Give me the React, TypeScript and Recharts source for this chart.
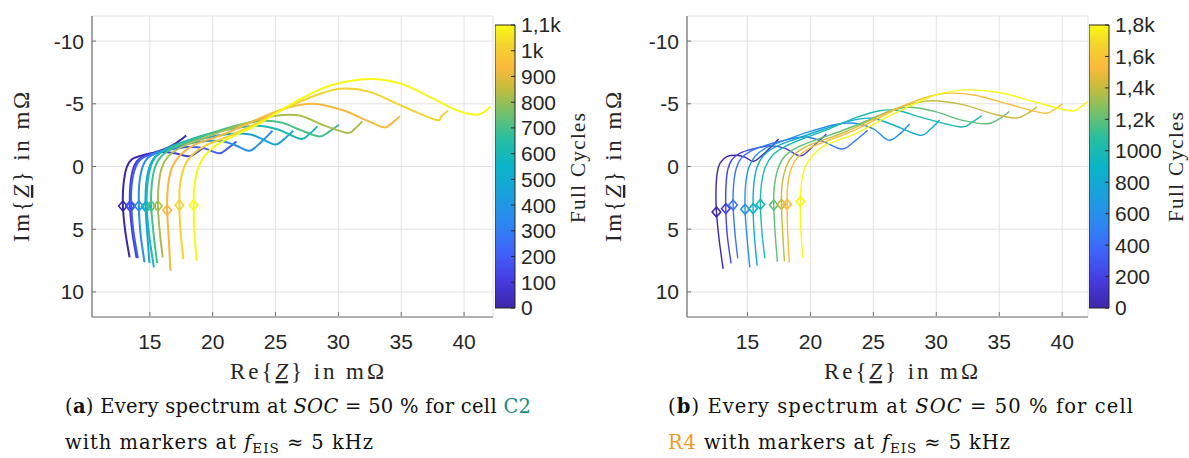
import React from 'react';
import { LineChart, Line, XAxis, YAxis, CartesianGrid, BarChart, Bar } from 'recharts';

type Pt = [number, number]; // [Re{Z}, Im{Z}] in mOhm

// (a) cell C2, one spectrum per check-up, coloured by full cycles
const cyclesA = [0, 100, 200, 350, 450, 600, 700, 820, 930, 1020, 1100];
const a0: Pt[] = [[13.39, 7.25], [13.05, 5.2], [12.86, 3.15], [12.9, 1.5], [13.15, 0.1], [13.6, -0.6], [14.4, -0.88], [15.3, -1.1], [16.2, -1.4], [17.0, -1.8], [17.9, -2.46]];
const a1: Pt[] = [[13.95, 7.3], [13.6, 5.2], [13.42, 3.15], [13.45, 1.5], [13.7, 0.1], [14.15, -0.6], [15.0, -0.95], [16.0, -1.15], [17.0, -1.05], [18.15, -0.82], [18.7, -1.1], [19.3, -1.55]];
const a2: Pt[] = [[14.05, 7.3], [13.7, 5.2], [13.52, 3.15], [13.55, 1.5], [13.85, 0.1], [14.35, -0.65], [15.3, -1.05], [16.6, -1.35], [18.0, -1.55], [19.3, -1.45], [20.5, -1.05], [21.2, -1.45], [21.9, -2.0]];
const a3: Pt[] = [[14.58, 7.65], [14.25, 5.3], [14.13, 3.15], [14.15, 1.5], [14.4, 0.1], [14.85, -0.7], [15.8, -1.2], [17.2, -1.6], [18.8, -1.95], [20.5, -2.05], [21.8, -1.7], [22.9, -1.25], [23.8, -1.9], [24.76, -2.85]];
const a4: Pt[] = [[14.97, 7.7], [14.8, 5.4], [14.66, 3.2], [14.7, 1.5], [14.95, 0.1], [15.4, -0.75], [16.3, -1.35], [17.8, -1.85], [19.5, -2.3], [21.3, -2.6], [23.0, -2.55], [24.0, -2.15], [25.0, -1.75], [25.7, -2.2], [26.4, -2.85]];
const a5: Pt[] = [[15.32, 8.04], [14.95, 5.5], [14.75, 3.2], [14.8, 1.5], [15.05, 0.1], [15.5, -0.8], [16.4, -1.45], [17.8, -2.0], [19.5, -2.55], [21.5, -3.0], [23.5, -3.25], [25.2, -2.95], [27.0, -2.2], [27.7, -2.6], [28.33, -3.2]];
const a6: Pt[] = [[15.58, 7.7], [15.3, 5.4], [15.11, 3.15], [15.15, 1.5], [15.4, 0.1], [15.9, -0.8], [16.9, -1.5], [18.3, -2.05], [20.0, -2.7], [22.0, -3.3], [24.0, -3.65], [25.5, -3.5], [27.0, -2.9], [28.47, -2.4], [29.3, -2.8], [30.06, -3.33]];
const a7: Pt[] = [[16.03, 7.25], [15.8, 5.3], [15.64, 3.15], [15.7, 1.5], [15.95, 0.1], [16.5, -0.85], [17.5, -1.55], [19.0, -2.15], [21.0, -2.9], [23.0, -3.55], [25.0, -4.05], [26.9, -4.07], [28.8, -3.3], [30.7, -2.67], [31.3, -3.0], [31.9, -3.6]];
const a8: Pt[] = [[16.64, 8.31], [16.5, 5.6], [16.38, 3.49], [16.45, 1.5], [16.8, 0.0], [17.5, -1.0], [18.7, -1.8], [20.3, -2.35], [22.0, -3.05], [24.0, -3.95], [26.0, -4.7], [28.0, -5.0], [30.3, -4.5], [32.2, -3.7], [33.63, -3.12], [34.3, -3.5], [34.9, -4.0]];
const a9: Pt[] = [[17.67, 7.38], [17.45, 5.3], [17.35, 3.09], [17.4, 1.5], [17.75, 0.0], [18.4, -0.95], [19.5, -1.7], [21.0, -2.3], [23.0, -3.2], [25.0, -4.25], [27.5, -5.4], [30.06, -6.19], [32.5, -5.95], [35.0, -4.85], [37.73, -3.73], [38.2, -4.0], [38.7, -4.47]];
const a10: Pt[] = [[18.73, 7.51], [18.55, 5.3], [18.49, 3.09], [18.55, 1.5], [18.85, 0.1], [19.4, -0.9], [20.3, -1.7], [21.7, -2.45], [23.5, -3.3], [25.3, -4.4], [27.2, -5.5], [29.5, -6.5], [32.44, -6.98], [35.0, -6.6], [37.46, -5.45], [39.5, -4.45], [40.9, -4.13], [41.6, -4.35], [42.1, -4.79]];
const spectraA = [a0, a1, a2, a3, a4, a5, a6, a7, a8, a9, a10];

// (b) cell R4
const cyclesB = [0, 200, 450, 600, 850, 1000, 1200, 1400, 1550, 1800];
const b0: Pt[] = [[13.07, 8.17], [12.75, 5.8], [12.54, 3.62], [12.5, 2.0], [12.6, 0.5], [12.85, -0.3], [13.4, -0.8], [14.1, -0.9], [14.8, -0.75], [15.5, -0.42], [16.4, -1.1], [17.48, -2.2]];
const b1: Pt[] = [[13.7, 7.72], [13.4, 5.5], [13.28, 3.36], [13.3, 1.5], [13.45, 0.2], [13.85, -0.65], [14.6, -1.15], [15.6, -1.45], [16.8, -1.65], [18.0, -1.45], [19.2, -0.85], [20.2, -1.6], [21.27, -2.59]];
const b2: Pt[] = [[14.23, 7.33], [14.0, 5.2], [13.86, 3.07], [13.9, 1.5], [14.1, 0.2], [14.5, -0.65], [15.3, -1.25], [16.5, -1.7], [18.0, -2.1], [19.6, -2.35], [21.0, -2.0], [22.5, -1.4], [23.5, -2.0], [24.55, -2.88]];
const b3: Pt[] = [[15.19, 8.04], [14.95, 5.5], [14.81, 3.41], [14.85, 1.5], [15.1, 0.1], [15.6, -0.8], [16.5, -1.5], [18.0, -2.1], [20.0, -2.8], [22.0, -3.35], [23.5, -3.45], [25.0, -3.0], [26.2, -2.1], [27.1, -2.6], [27.88, -3.39]];
const b4: Pt[] = [[15.77, 7.91], [15.55, 5.5], [15.45, 3.36], [15.5, 1.5], [15.75, 0.1], [16.3, -0.9], [17.3, -1.6], [19.0, -2.25], [21.0, -2.95], [23.0, -3.6], [24.8, -3.85], [26.5, -3.35], [28.68, -2.49], [29.5, -2.95], [30.27, -3.7]];
const b5: Pt[] = [[16.38, 7.33], [16.15, 5.2], [16.03, 3.02], [16.1, 1.5], [16.4, 0.1], [17.0, -0.9], [18.0, -1.6], [19.5, -2.25], [21.5, -3.0], [23.5, -3.85], [25.5, -4.45], [27.0, -4.45], [29.0, -3.86], [31.9, -3.15], [32.8, -3.5], [33.63, -4.07]];
const b6: Pt[] = [[17.38, 7.59], [17.2, 5.3], [17.09, 3.07], [17.15, 1.5], [17.45, 0.1], [18.0, -0.85], [19.0, -1.55], [20.5, -2.15], [22.5, -2.85], [24.5, -3.65], [26.5, -4.5], [28.0, -4.72], [30.0, -4.35], [32.0, -3.7], [34.02, -3.41], [35.0, -3.8], [35.8, -4.39]];
const b7: Pt[] = [[17.94, 7.57], [17.8, 5.3], [17.7, 3.02], [17.75, 1.5], [18.05, 0.1], [18.6, -0.85], [19.6, -1.55], [21.0, -2.1], [23.0, -2.85], [25.0, -3.8], [27.0, -4.7], [29.5, -5.24], [32.0, -4.95], [34.5, -4.2], [36.27, -3.86], [37.2, -4.2], [37.99, -4.74]];
const b8: Pt[] = [[18.33, 7.65], [18.2, 5.3], [18.15, 3.02], [18.2, 1.5], [18.5, 0.1], [19.1, -0.85], [20.1, -1.55], [21.5, -2.1], [23.5, -2.9], [25.5, -3.9], [27.5, -4.9], [29.5, -5.6], [31.0, -5.85], [33.0, -5.7], [36.0, -4.9], [38.52, -4.26], [39.3, -4.5], [40.02, -5.0]];
const b9: Pt[] = [[19.39, 7.25], [19.25, 5.2], [19.21, 2.8], [19.3, 1.3], [19.6, 0.0], [20.2, -0.9], [21.2, -1.7], [23.7, -2.67], [26.0, -3.9], [28.7, -5.2], [30.5, -5.85], [32.4, -6.11], [35.0, -5.9], [38.0, -5.1], [40.63, -4.44], [41.4, -4.7], [42.2, -5.3]];
const spectraB = [b0, b1, b2, b3, b4, b5, b6, b7, b8, b9];

// third point of every spectrum is the f_EIS ~ 5 kHz point
const MARKER_AT = 2;

const reTicks = [15, 20, 25, 30, 35, 40];
const imTicks = [-10, -5, 0, 5, 10];
const cbTicksA = [0, 100, 200, 300, 400, 500, 600, 700, 800, 900, 1000, 1100];
const cbLabelsA = ['0', '100', '200', '300', '400', '500', '600', '700', '800', '900', '1k', '1,1k'];
const cbTicksB = [0, 200, 400, 600, 800, 1000, 1200, 1400, 1600, 1800];
const cbLabelsB = ['0', '200', '400', '600', '800', '1000', '1,2k', '1,4k', '1,6k', '1,8k'];

// parula-ish colormap (t, r, g, b)
const PARULA: [number, number, number, number][] = [
  [0.0, 62, 38, 168],
  [0.1, 70, 60, 225],
  [0.2, 62, 100, 250],
  [0.3, 45, 135, 240],
  [0.4, 27, 160, 220],
  [0.5, 10, 180, 200],
  [0.6, 40, 190, 160],
  [0.7, 125, 192, 100],
  [0.78, 200, 188, 60],
  [0.85, 250, 185, 60],
  [0.93, 243, 212, 45],
  [1.0, 249, 250, 20],
];

function parula(t: number) {
  for (let i = 1; i < PARULA.length; i++) {
    const [t1, r1, g1, b1] = PARULA[i];
    if (t <= t1) {
      const [t0, r0, g0, b0] = PARULA[i - 1];
      const f = (t - t0) / (t1 - t0);
      return `rgb(${Math.round(r0 + f * (r1 - r0))},${Math.round(g0 + f * (g1 - g0))},${Math.round(b0 + f * (b1 - b0))})`;
    }
  }
  return 'rgb(249,250,20)';
}

// catmull-rom through the points (works for non-monotone Nyquist curves)
const smooth = (ctx: any) => {
  let pts: number[][] = [];
  return {
    areaStart() {},
    areaEnd() {},
    lineStart() { pts = []; },
    point(x: number, y: number) { pts.push([+x, +y]); },
    lineEnd() {
      if (!pts.length) return;
      ctx.moveTo(pts[0][0], pts[0][1]);
      for (let i = 0; i < pts.length - 1; i++) {
        const p0 = pts[Math.max(i - 1, 0)];
        const p1 = pts[i];
        const p2 = pts[i + 1];
        const p3 = pts[Math.min(i + 2, pts.length - 1)];
        ctx.bezierCurveTo(
          p1[0] + (p2[0] - p0[0]) / 6, p1[1] + (p2[1] - p0[1]) / 6,
          p2[0] - (p3[0] - p1[0]) / 6, p2[1] - (p3[1] - p1[1]) / 6,
          p2[0], p2[1],
        );
      }
    },
  };
};

const SANS = '"Liberation Sans", Arial, sans-serif';
const SERIF = '"Liberation Serif", "Times New Roman", serif';
const CAPTION = '"DejaVu Serif", serif';
const TXT = '#262626';
const AXIS = '#707070';

const XTick = (p: any) => (
  <g>
    <line x1={p.x} x2={p.x} y1={p.y - 18} y2={p.y - 22} stroke={AXIS} />
    <text x={p.x} y={p.y} dy="0.71em" textAnchor="middle" fontFamily={SANS} fontSize={21} fill={TXT}>{p.payload.value}</text>
  </g>
);

const YTick = (p: any) => (
  <g>
    <line x1={p.x + 8} x2={p.x + 12} y1={p.y} y2={p.y} stroke={AXIS} />
    <text x={p.x} y={p.y} dy="0.355em" textAnchor="end" fontFamily={SANS} fontSize={21} fill={TXT}>{p.payload.value}</text>
  </g>
);

type NyqProps = {
  spectra: Pt[][];
  cycles: number[];
  cmax: number;
  xDomain: [number, number];
  yWidth: number;
  right: number;
  lw: number;
};

function Nyquist({ spectra, cycles, cmax, xDomain, yWidth, right, lw }: NyqProps) {
  return (
    <LineChart width={500} height={360} margin={{ top: 16, right, bottom: 0, left: 0 }}>
      <CartesianGrid stroke="#e2e2e2" />
      <XAxis type="number" dataKey="re" domain={xDomain} ticks={reTicks} interval={0} allowDataOverflow
        height={43} tickSize={0} tickMargin={17} axisLine={{ stroke: AXIS, strokeWidth: 1.2 }} tick={XTick} />
      <YAxis type="number" dataKey="im" domain={[-12, 12]} reversed ticks={imTicks} interval={0} allowDataOverflow
        width={yWidth} tickSize={0} tickMargin={8} axisLine={{ stroke: AXIS, strokeWidth: 1.2 }} tick={YTick} />
      {spectra.map((pts, i) => {
        const color = parula(cycles[i] / cmax);
        return (
          <Line
            key={i}
            data={pts.map(([re, im]) => ({ re, im }))}
            dataKey="im"
            type={smooth as any}
            stroke={color}
            strokeWidth={lw}
            activeDot={false}
            isAnimationActive={false}
            dot={(d: any) =>
              d.index === MARKER_AT ? (
                <polygon key={`m${i}`} points={`${d.cx},${d.cy - 5} ${d.cx + 4.3},${d.cy} ${d.cx},${d.cy + 5} ${d.cx - 4.3},${d.cy}`}
                  fill="none" stroke={color} strokeWidth={1.6} />
              ) : (
                <g key={`n${i}-${d.index}`} />
              )
            }
          />
        );
      })}
    </LineChart>
  );
}

function ColorBar({ id, max, ticks, labels }: { id: string; max: number; ticks: number[]; labels: string[] }) {
  const CbTick = (p: any) => (
    <g>
      <line x1={p.x - 6} x2={p.x - 10} y1={p.y} y2={p.y} stroke={TXT} />
      <text x={p.x} y={p.y} dy="0.355em" textAnchor="start" fontFamily={SANS} fontSize={21} fill={TXT}>
        {labels[ticks.indexOf(p.payload.value)]}
      </text>
    </g>
  );
  return (
    <BarChart width={95} height={326} data={[{ name: 'c', v: max }]} margin={{ top: 25, right: 0, bottom: 18, left: 0 }}
      barCategoryGap={0} barGap={0}>
      <defs>
        <linearGradient id={id} x1="0" y1="1" x2="0" y2="0">
          {PARULA.map(([t, r, g, b]) => (
            <stop key={t} offset={t} stopColor={`rgb(${r},${g},${b})`} />
          ))}
        </linearGradient>
      </defs>
      <XAxis dataKey="name" hide height={0} />
      <YAxis orientation="right" type="number" domain={[0, max]} ticks={ticks} interval={0} width={75}
        tickSize={0} tickMargin={6} axisLine={false} tick={CbTick} />
      <Bar dataKey="v" fill={`url(#${id})`} stroke={TXT} strokeWidth={1} isAnimationActive={false} />
    </BarChart>
  );
}

const ZLabel = ({ head }: { head: string }) => (
  <>
    {head}{'{'}<tspan fontStyle="italic" style={{ textDecoration: 'underline' }}>Z</tspan>{'}'} in mΩ
  </>
);

export default function App() {
  return (
    <div style={{ position: 'absolute', left: 0, top: 0, width: 1189, height: 458, background: '#fff', overflow: 'hidden' }}>
      <div style={{ position: 'absolute', left: 0, top: 0 }}>
        <Nyquist spectra={spectraA} cycles={cyclesA} cmax={1100} xDomain={[10.4, 42.3]} yWidth={92} right={7} lw={2} />
      </div>
      <div style={{ position: 'absolute', left: 495, top: 0 }}>
        <ColorBar id="cbA" max={1100} ticks={cbTicksA} labels={cbLabelsA} />
      </div>
      <div style={{ position: 'absolute', left: 590, top: 0 }}>
        <Nyquist spectra={spectraB} cycles={cyclesB} cmax={1800} xDomain={[10.2, 42.05]} yWidth={97} right={2} lw={1.4} />
      </div>
      <div style={{ position: 'absolute', left: 1089, top: 0 }}>
        <ColorBar id="cbB" max={1800} ticks={cbTicksB} labels={cbLabelsB} />
      </div>
      <svg width={1189} height={458} style={{ position: 'absolute', left: 0, top: 0, pointerEvents: 'none' }}>
        <g fontFamily={SERIF} fontSize={23} fill={TXT}>
          <text x={307} y={379} textAnchor="middle" textLength={154} lengthAdjust="spacing"><ZLabel head="Re" /></text>
          <text x={901} y={379} textAnchor="middle" textLength={154} lengthAdjust="spacing"><ZLabel head="Re" /></text>
          <text transform="translate(29,167) rotate(-90)" textAnchor="middle" textLength={150} lengthAdjust="spacing"><ZLabel head="Im" /></text>
          <text transform="translate(621,167) rotate(-90)" textAnchor="middle" textLength={150} lengthAdjust="spacing"><ZLabel head="Im" /></text>
        </g>
        <g fontFamily={SERIF} fontSize={21} fill={TXT}>
          <text transform="translate(585,168) rotate(-90)" textAnchor="middle" textLength={110} lengthAdjust="spacing">Full Cycles</text>
          <text transform="translate(1183,167) rotate(-90)" textAnchor="middle" textLength={110} lengthAdjust="spacing">Full Cycles</text>
        </g>
        <g fontFamily={CAPTION} fontSize={19.5} fill="#111">
          <text x={65} y={413} textLength={466} lengthAdjust="spacing">
            (<tspan fontWeight="bold">a</tspan>) Every spectrum at <tspan fontStyle="italic">SOC</tspan> = 50 % for cell <tspan fill="#1b8f80">C2</tspan>
          </text>
          <text x={65} y={449} textLength={308} lengthAdjust="spacing">
            with markers at <tspan fontStyle="italic">f</tspan><tspan dy={4} fontSize={13.5}>EIS</tspan><tspan dy={-4}> ≈ 5 kHz</tspan>
          </text>
          <text x={668} y={413} textLength={465} lengthAdjust="spacing">
            (<tspan fontWeight="bold">b</tspan>) Every spectrum at <tspan fontStyle="italic">SOC</tspan> = 50 % for cell
          </text>
          <text x={668} y={449} textLength={342} lengthAdjust="spacing">
            <tspan fill="#f39a1e">R4</tspan> with markers at <tspan fontStyle="italic">f</tspan><tspan dy={4} fontSize={13.5}>EIS</tspan><tspan dy={-4}> ≈ 5 kHz</tspan>
          </text>
        </g>
      </svg>
    </div>
  );
}
